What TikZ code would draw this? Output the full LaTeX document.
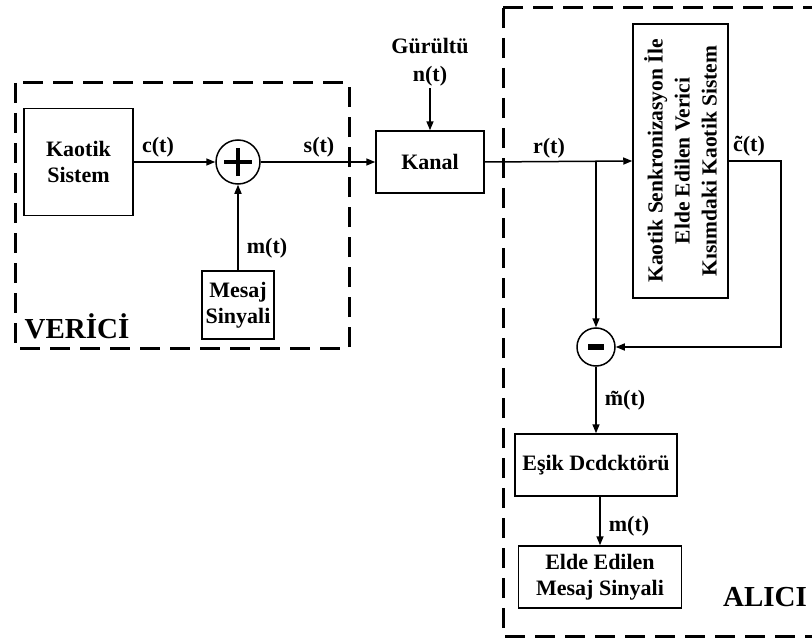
\documentclass[tikz,border=0pt]{standalone}
\usepackage{fontspec}
\setmainfont{Liberation Serif}
\usetikzlibrary{arrows.meta}

\begin{document}
\begin{tikzpicture}[x=1pt, y=-1pt,
  blok/.style={draw, line width=1.5pt, align=center, font=\fontsize{22}{26}\selectfont\bfseries, inner sep=0pt},
  daire/.style={draw, circle, line width=1.5pt, inner sep=0pt},
  etiket/.style={font=\fontsize{22}{26}\selectfont\bfseries, inner sep=2pt},
  baslik/.style={font=\fontsize{29}{30}\selectfont\bfseries},
  kesik/.style={line width=3pt, dash pattern=on 20pt off 10pt},
  arr/.style={-{Triangle[length=9pt,width=7pt]}, line width=1.5pt}
]
\useasboundingbox (0,0) rectangle (812,642);
\clip (0,0) rectangle (812,642);

\draw[kesik] (15,83) rectangle (349,348);
\draw[kesik] (503,8) rectangle (830,636);

\node[blok, minimum width=109pt, minimum height=107pt] (ks) at (78.5,162) {Kaotik\\Sistem};
\node[daire, minimum size=44pt] (sum) at (238,162) {};
\node[blok, minimum width=72pt, minimum height=68pt] (ms) at (238,305) {Mesaj\\Sinyali};
\node[blok, minimum width=108pt, minimum height=62pt] (kanal) at (430,162) {Kanal};
\node[etiket, align=center, font=\fontsize{22}{28}\selectfont\bfseries] (gurultu) at (430,62) {Gürültü\\n(t)};
\node[blok, rotate=90, minimum width=274pt, minimum height=95pt,
      font=\fontsize{21.5}{27}\selectfont\bfseries] (snk) at (680.5,161)
  {Kaotik Senkronizasyon İle\\Elde Edilen Verici\\Kısımdaki Kaotik Sistem};
\node[daire, minimum size=38pt] (fark) at (596,347) {};
\node[blok, minimum width=162pt, minimum height=62pt] (esik) at (596,465) {Eşik Dcdcktörü};
\node[blok, minimum width=163pt, minimum height=62pt] (elde) at (600,577) {Elde Edilen\\Mesaj Sinyali};

\draw[line width=4pt] ([xshift=-14pt]sum.center) -- ([xshift=14pt]sum.center);
\draw[line width=4pt] ([yshift=-14pt]sum.center) -- ([yshift=14pt]sum.center);
\draw[line width=6pt] ([xshift=-8pt]fark.center) -- ([xshift=8pt]fark.center);

\draw[arr] (ks.east) -- (sum.west);
\draw[arr] (ms.north) -- (sum.south);
\draw[arr] (sum.east) -- (kanal.west);
\draw[arr] (gurultu.south) -- (kanal.north);
\draw[arr] (kanal.east) -- (snk.north);
\coordinate (dal) at (fark.north |- kanal.east);
\draw[arr] (dal) -- (fark.north);
\draw[arr] (snk.south) -- ++(52,0) |- (fark.east);
\draw[arr] (fark.south) -- (esik.north);
\draw[arr] (esik.south -| elde.north) -- (elde.north);

\node[etiket] (lc) at (158,147) {c(t)};
\node[etiket] (ls) at (319,147) {s(t)};
\node[etiket] (lm) at (267,248) {m(t)};
\node[etiket] (lr) at (549,148) {r(t)};
\node[etiket] (lct) at (749,146) {\~{c}(t)};
\node[etiket] (lmt) at (625,400) {\~{m}(t)};
\node[etiket] (lmc) at (629,526) {m(t)};

\node[baslik] (verici) at (77,326) {VERİCİ};
\node[baslik] (alici) at (765,597) {ALICI};
\end{tikzpicture}
\end{document}
